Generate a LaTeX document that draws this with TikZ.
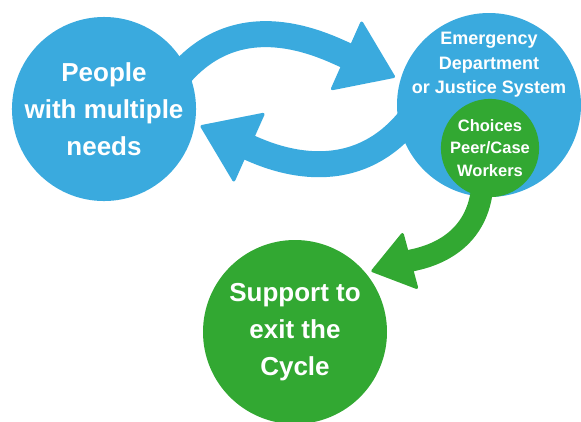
\documentclass[tikz,border=0pt]{standalone}
\usepackage{fontspec}
\setmainfont{Liberation Sans}
\usetikzlibrary{arrows.meta}

\definecolor{cycleblue}{RGB}{58,170,222}
\definecolor{exitgreen}{RGB}{50,168,50}

\tikzset{
  bubble/.style={circle, inner sep=0pt, minimum size=184pt, text=white,
    font=\bfseries\fontsize{26}{37}\selectfont, align=center},
  edtext/.style={inner sep=0pt, text=white,
    font=\bfseries\fontsize{18}{24.5}\selectfont, align=center},
  bluearrow/.style={draw=cycleblue, line width=26pt, shorten <=-12pt, shorten >=6pt,
    -{Triangle[length=55pt, width=77pt, round, line width=3pt]}},
  greenarrow/.style={draw=exitgreen, line width=22pt, shorten <=-10pt, shorten >=6pt,
    -{Triangle[length=42pt, width=60pt, round, line width=3pt]}}
}

\begin{document}
\begin{tikzpicture}[x=1pt, y=1pt]
	\useasboundingbox (0,0) rectangle (581,-421);

	% Cycle circles
	\node[bubble, fill=cycleblue] (people) at (104,-109) {People\\with multiple\\needs};
	\node[bubble, fill=cycleblue] (ed) at (489,-105) {};
	\node[edtext] (edlabel) at (489,-65) {Emergency\\Department\\or Justice System};

	% Cycle arrows
	\draw[bluearrow] (people.27) to[out=50, in=156] (ed.164);
	\draw[bluearrow] (ed.196) to[out=230, in=336] (people.351);

	% Way out of the cycle
	\node[bubble, fill=exitgreen, minimum size=94pt,
	      font=\bfseries\fontsize{16.5}{22.5}\selectfont] (choices) at (490,-148) {Choices\\Peer/Case\\Workers};
	\node[bubble, fill=exitgreen] (exit) at (295,-332) {Support to\\exit the\\Cycle};
	\draw[greenarrow] (choices.260) to[out=-95, in=15] (exit.40);

\end{tikzpicture}
\end{document}
